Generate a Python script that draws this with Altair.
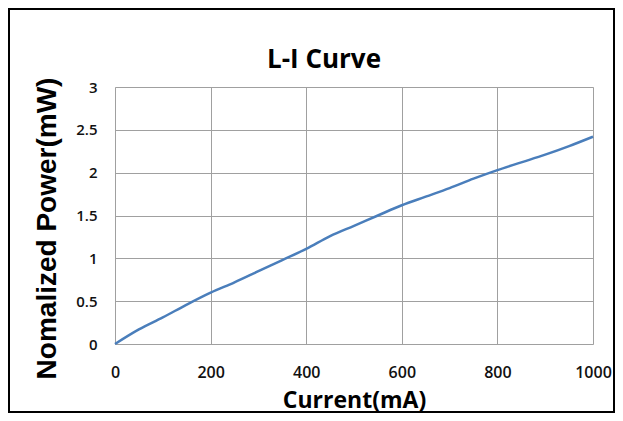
import altair as alt
import pandas as pd

current = [0, 50, 100, 150, 200, 250, 300, 350, 400, 450, 500,
           550, 600, 650, 700, 750, 800, 850, 900, 950, 1000]
power = [0.0, 0.17, 0.31, 0.46, 0.60, 0.72, 0.85, 0.98, 1.11, 1.26, 1.38,
         1.50, 1.62, 1.72, 1.82, 1.93, 2.03, 2.12, 2.21, 2.31, 2.42]
x_ticks = [0, 200, 400, 600, 800, 1000]
y_ticks = [0, 0.5, 1, 1.5, 2, 2.5, 3]

df = pd.DataFrame({"current": current, "power": power})

label_font = "Open Sans"

line = alt.Chart(df).mark_line(
    color="#4a7ebb", strokeWidth=2.5, interpolate="monotone"
).encode(
    x=alt.X(
        "current:Q",
        scale=alt.Scale(domain=[0, 1000], nice=False),
        axis=alt.Axis(
            values=x_ticks, title="Current(mA)", labelExpr="'' + datum.value",
            grid=True, gridColor="#a0a0a0", gridWidth=1, domain=False,
            ticks=False, tickSize=0, labelPadding=20, labelFlush=False,
            labelFont=label_font, labelFontSize=16, labelFontWeight=600,
            labelColor="#111", titleFont="Open Sans", titleFontSize=23,
            titleFontWeight="bold", titleColor="#000",
            titleX=239, titleY=63, titleBaseline="alphabetic", titleAlign="center",
        ),
    ),
    y=alt.Y(
        "power:Q",
        scale=alt.Scale(domain=[0, 3], nice=False),
        axis=alt.Axis(
            values=y_ticks, title="Nomalized Power(mW)", labelExpr="'' + datum.value",
            grid=True, gridColor="#a0a0a0", gridWidth=1, domain=False,
            ticks=False, tickSize=0, labelPadding=18, labelFlush=False,
            labelFont=label_font, labelFontSize=15, labelFontWeight=600,
            labelColor="#111", titleFont="Liberation Sans", titleFontSize=28,
            titleFontWeight="bold", titleColor="#000", titleAngle=270,
            titleX=-60, titleY=141, titleBaseline="alphabetic", titleAlign="center",
        ),
    ),
)

frame = alt.Chart(pd.DataFrame({"f": [0]})).mark_rect(
    filled=False, stroke="#000", strokeWidth=2
).encode(
    x=alt.value(-106), x2=alt.value(499), y=alt.value(-78), y2=alt.value(325)
)

chart = alt.layer(frame, line).properties(
    width=478,
    height=257,
    title=alt.TitleParams(
        "L-I Curve", font="Open Sans", fontSize=26, fontWeight="bold",
        color="#000", anchor="middle", dx=-30, offset=0, dy=86,
        baseline="alphabetic",
    ),
    autosize=alt.AutoSizeParams(type="none"),
    padding={"left": 107, "top": 79, "right": 22, "bottom": 69},
).configure_view(stroke="#000", strokeWidth=2).configure(background="white")

chart.save("out.html", embed_options={"renderer": "svg", "actions": False})
